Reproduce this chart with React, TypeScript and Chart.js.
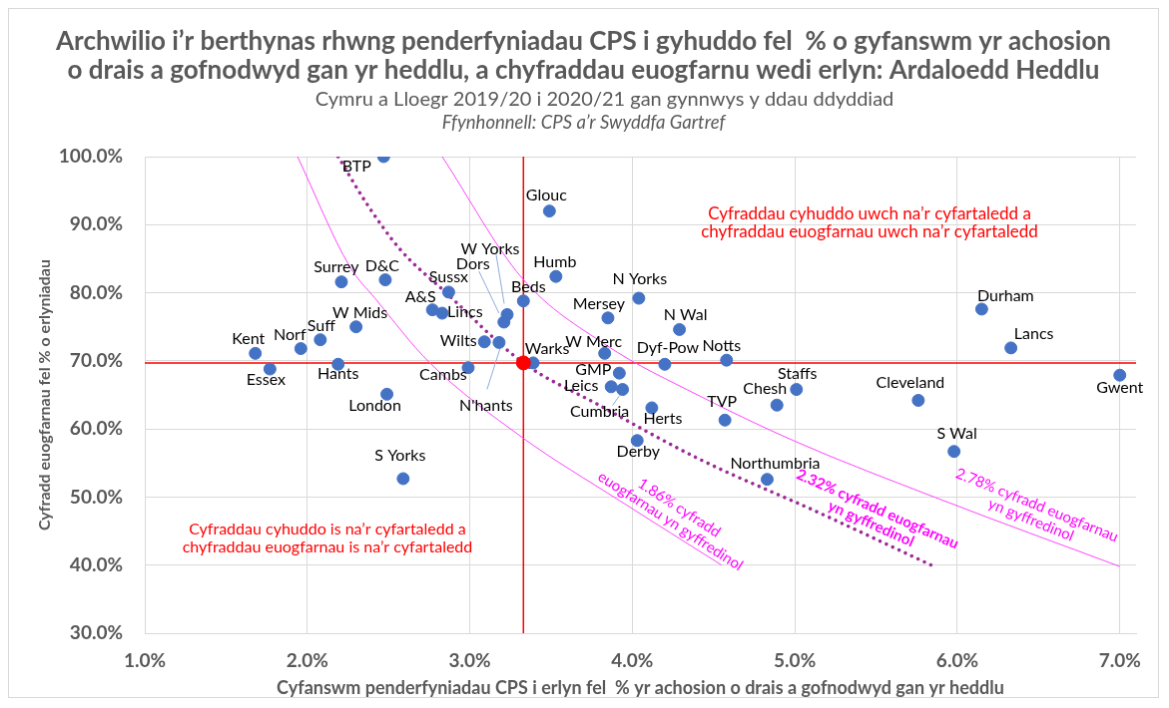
import React, { useEffect, useRef } from "react";
import { Chart, registerables } from "chart.js";

Chart.register(...registerables);

// ---- Data ----
const forces = [
  "BTP", "Glouc", "Humb", "Surrey", "D&C", "Sussx", "A&S", "Lincs", "Beds", "W Yorks",
  "Dors", "N Yorks", "Mersey", "N Wal", "W Mids", "Suff", "Norf", "Kent", "Essex", "Hants",
  "London", "Wilts", "N'hants", "Cambs", "Warks", "W Merc", "Dyf-Pow", "Notts", "GMP", "Leics",
  "Cumbria", "Herts", "Derby", "TVP", "Chesh", "Staffs", "Cleveland", "S Wal", "Northumbria", "Durham",
  "Lancs", "Gwent", "S Yorks",
];
// CPS charge decisions as % of police recorded rape (x)
const chargeRate = [
  2.47, 3.49, 3.53, 2.21, 2.48, 2.87, 2.77, 2.83, 3.33, 3.23,
  3.21, 4.04, 3.85, 4.29, 2.30, 2.08, 1.96, 1.68, 1.77, 2.19,
  2.49, 3.09, 3.18, 2.99, 3.39, 3.83, 4.20, 4.58, 3.92, 3.87,
  3.94, 4.12, 4.03, 4.57, 4.89, 5.01, 5.76, 5.98, 4.83, 6.15,
  6.33, 7.00, 2.59,
];
// Conviction rate as % of prosecutions (y)
const convictionRate = [
  100.0, 92.0, 82.4, 81.6, 81.9, 80.1, 77.5, 77.0, 78.8, 76.8,
  75.7, 79.2, 76.3, 74.6, 75.0, 73.1, 71.8, 71.1, 68.8, 69.5,
  65.1, 72.8, 72.7, 69.0, 69.7, 71.1, 69.5, 70.1, 68.2, 66.2,
  65.8, 63.1, 58.3, 61.3, 63.5, 65.8, 64.2, 56.7, 52.6, 77.6,
  71.9, 67.9, 52.7,
];
const averageCharge = 3.33;
const averageConviction = 69.7;

// Overall conviction rate reference curves
const curve186X = [1.94, 2.26, 2.42, 2.75, 3.32, 3.92, 4.55];
const curve186Y = [100, 83.9, 79.1, 69.8, 58.8, 49.5, 40];
const curve232X = [2.19, 2.36, 2.57, 2.85, 3.33, 3.78, 4.41, 5.13, 5.84];
const curve232Y = [100, 93.3, 86.4, 80.1, 69.7, 63.7, 55.6, 47.9, 40];
const curve278X = [2.83, 3.32, 3.84, 4.41, 5.0, 5.88, 7.0];
const curve278Y = [100, 82.2, 72.3, 64.9, 58.2, 49.8, 39.8];

const xTicks = [1, 2, 3, 4, 5, 6, 7];
const yTicks = [30, 40, 50, 60, 70, 80, 90, 100];

// ---- Label placement (pixel offsets from the point) ----
const labelOffsets: Record<string, [number, number]> = {
  "BTP": [-27, 10], "Glouc": [-3, -16], "Humb": [-1, -14], "Surrey": [-5, -15], "D&C": [-3, -14],
  "Sussx": [0, -15], "A&S": [-12, -13], "Lincs": [23, -1], "Beds": [5, -14], "W Yorks": [-17, -66],
  "Dors": [-31, -58], "N Yorks": [1, -19], "Mersey": [-9, -14], "N Wal": [6, -15], "W Mids": [4, -14],
  "Suff": [1, -14], "Norf": [-11, -14], "Kent": [-7, -15], "Essex": [-4, 11], "Hants": [0, 10],
  "London": [-12, 12], "Wilts": [-26, -1], "N'hants": [-13, 63], "Cambs": [-25, 7], "Warks": [14, -14],
  "W Merc": [-11, -12], "Dyf-Pow": [3, -16], "Notts": [-5, -14], "GMP": [-26, -3], "Leics": [-30, -1],
  "Cumbria": [-23, 22], "Herts": [11, 11], "Derby": [1, 11], "TVP": [-3, -18], "Chesh": [-12, -16],
  "Staffs": [1, -16], "Cleveland": [-8, -18], "S Wal": [3, -18], "Northumbria": [8, -16], "Durham": [24, -13],
  "Lancs": [23, -14], "Gwent": [0, 13], "S Yorks": [-3, -23],
};
const leaderLines: Record<string, [number, number, number, number]> = {
  "W Yorks": [-11, -60, -3, -11],
  "Dors": [-25, -51, -5, -9],
  "N'hants": [-12, 47, 1, 6],
  "Cumbria": [-10, 16, -3, 6],
};

const GREY = "#595959";
const FONT = "Lato, 'Open Sans', sans-serif";

const zipXY = (xs: number[], ys: number[]) => xs.map((x, i) => ({ x, y: ys[i] }));

const textPlugin = {
  id: "textPlugin",
  afterDatasetsDraw(chart: any) {
    const ctx = chart.ctx as CanvasRenderingContext2D;
    const meta = chart.getDatasetMeta(1);
    ctx.save();
    ctx.strokeStyle = "#8FAADC";
    ctx.lineWidth = 1;
    meta.data.forEach((el: any, i: number) => {
      const l = leaderLines[forces[i]];
      if (!l) return;
      ctx.beginPath();
      ctx.moveTo(el.x + l[0], el.y + l[1]);
      ctx.lineTo(el.x + l[2], el.y + l[3]);
      ctx.stroke();
    });
    ctx.font = `16px ${FONT}`;
    ctx.fillStyle = "#000000";
    ctx.textAlign = "center";
    ctx.textBaseline = "middle";
    meta.data.forEach((el: any, i: number) => {
      const off = labelOffsets[forces[i]] || [0, -14];
      ctx.fillText(forces[i], el.x + off[0], el.y + off[1]);
    });
    ctx.restore();
  },
  afterDraw(chart: any) {
    const ctx = chart.ctx as CanvasRenderingContext2D;
    const xs = chart.scales.x;
    const ys = chart.scales.y;
    const ca = chart.chartArea;
    const cx = chart.width / 2;
    ctx.save();
    ctx.textAlign = "center";
    ctx.textBaseline = "middle";
    ctx.fillStyle = GREY;
    ctx.font = `bold 26px ${FONT}`;
    ctx.fillText("Archwilio i’r berthynas rhwng penderfyniadau CPS i gyhuddo fel  % o gyfanswm yr achosion", cx, 33);
    ctx.fillText("o drais a gofnodwyd gan yr heddlu, a chyfraddau euogfarnu wedi erlyn: Ardaloedd Heddlu", cx, 62);
    ctx.font = `20px ${FONT}`;
    ctx.fillText("Cymru a Lloegr 2019/20 i 2020/21 gan gynnwys y ddau ddyddiad", cx + 21, 91);
    ctx.font = `italic 18.5px ${FONT}`;
    ctx.fillText("Ffynhonnell: CPS a’r Swyddfa Gartref", cx, 114);
    // axis titles
    ctx.font = `bold 18px ${FONT}`;
    ctx.fillText("Cyfanswm penderfyniadau CPS i erlyn fel  % yr achosion o drais a gofnodwyd gan yr heddlu", (ca.left + ca.right) / 2, 681);
    ctx.save();
    ctx.translate(36, (ca.top + ca.bottom) / 2);
    ctx.rotate(-Math.PI / 2);
    ctx.font = `bold 16px ${FONT}`;
    ctx.fillText("Cyfradd euogfarnau fel % o erlyniadau", 0, 0);
    ctx.restore();
    // quadrant annotations
    ctx.fillStyle = "#FF0000";
    ctx.font = `17px ${FONT}`;
    let ax = xs.getPixelForValue(5.46);
    let ay = ys.getPixelForValue(90.3);
    ctx.fillText("Cyfraddau cyhuddo uwch na’r cyfartaledd a", ax, ay - 9);
    ctx.fillText("chyfraddau euogfarnau uwch na’r cyfartaledd", ax, ay + 9);
    ctx.font = `16px ${FONT}`;
    ax = xs.getPixelForValue(2.124);
    ay = ys.getPixelForValue(44.0);
    ctx.fillText("Cyfraddau cyhuddo is na’r cyfartaledd a", ax, ay - 9);
    ctx.fillText("chyfraddau euogfarnau is na’r cyfartaledd", ax, ay + 9);
    // curve labels
    ctx.fillStyle = "#FF00FF";
    const curveLabels: [number, number, number, string, string, string][] = [
      [4.261, 47.44, 33, "1.86% cyfradd", "euogfarnau yn gyffredinol", `15px ${FONT}`],
      [5.489, 47.15, 24, "2.32% cyfradd euogfarnau", "yn gyffredinol", `bold 15px ${FONT}`],
      [6.472, 47.73, 22, "2.78% cyfradd euogfarnau", "yn gyffredinol", `15px ${FONT}`],
    ];
    curveLabels.forEach(([vx, vy, ang, l1, l2, f]) => {
      ctx.save();
      ctx.translate(xs.getPixelForValue(vx), ys.getPixelForValue(vy));
      ctx.rotate((ang * Math.PI) / 180);
      ctx.font = f;
      ctx.fillText(l1, 0, -8);
      ctx.fillText(l2, 0, 8);
      ctx.restore();
    });
    ctx.restore();
  },
};

export default function App() {
  const ref = useRef<HTMLCanvasElement | null>(null);
  useEffect(() => {
    if (!ref.current) return;
    const points = forces.map((_, i) => ({ x: chargeRate[i], y: convictionRate[i] }));
    const curveDefs = [
      { data: zipXY(curve186X, curve186Y), color: "#FF44FF", width: 1, dotted: false },
      { data: zipXY(curve232X, curve232Y), color: "#9C2A96", width: 3.5, dotted: true },
      { data: zipXY(curve278X, curve278Y), color: "#FF44FF", width: 1, dotted: false },
    ];
    const curveDatasets = curveDefs.map((c) => ({
      type: "line" as const,
      data: c.data,
      borderColor: c.color,
      borderWidth: c.width,
      borderDash: c.dotted ? [0.01, 7] : [],
      borderCapStyle: c.dotted ? ("round" as const) : ("butt" as const),
      pointRadius: 0,
      showLine: true,
      fill: false,
      cubicInterpolationMode: "monotone" as const,
    }));
    const chart = new Chart(ref.current, {
      type: "scatter",
      data: {
        datasets: [
          {
            label: "Average",
            data: [{ x: averageCharge, y: averageConviction }],
            backgroundColor: "#FF0000",
            borderColor: "#FF0000",
            pointRadius: 7,
            borderWidth: 1,
          },
          {
            label: "Forces",
            data: points,
            backgroundColor: "#4472C4",
            borderColor: "#4472C4",
            pointRadius: 6,
            borderWidth: 1,
          },
          ...curveDatasets,
          {
            type: "line",
            data: [{ x: averageCharge, y: 30 }, { x: averageCharge, y: 100 }],
            borderColor: "#FF0000",
            borderWidth: 1.5,
            pointRadius: 0,
            showLine: true,
          },
          {
            type: "line",
            data: [{ x: 1, y: averageConviction }, { x: 7.1, y: averageConviction }],
            borderColor: "#FF0000",
            borderWidth: 1.5,
            pointRadius: 0,
            showLine: true,
          },
        ] as any,
      },
      options: {
        responsive: false,
        animation: false,
        events: [],
        layout: { padding: { top: 148, right: 22, bottom: 0, left: 0 } },
        plugins: {
          legend: { display: false },
          tooltip: { enabled: false },
          title: { display: false },
        },
        scales: {
          x: {
            type: "linear",
            min: 1,
            max: 7.1,
            afterFit: (s: any) => { s.height = 64; },
            afterBuildTicks: (s: any) => { s.ticks = xTicks.map((v) => ({ value: v })); },
            ticks: {
              padding: 16,
              color: GREY,
              font: { family: FONT, size: 19, weight: "bold" },
              callback: (v: any) => Number(v).toFixed(1) + "%",
              maxRotation: 0,
            },
            grid: { color: "#D9D9D9", lineWidth: 1, drawTicks: false },
            border: { color: "#D9D9D9" },
          },
          y: {
            type: "linear",
            min: 30,
            max: 100,
            afterFit: (s: any) => { s.width = 136; },
            afterBuildTicks: (s: any) => { s.ticks = yTicks.map((v) => ({ value: v })); },
            ticks: {
              padding: 22,
              color: GREY,
              font: { family: FONT, size: 19, weight: "bold" },
              callback: (v: any) => Number(v).toFixed(1) + "%",
            },
            grid: { color: "#D9D9D9", lineWidth: 1, drawTicks: false },
            border: { color: "#D9D9D9" },
          },
        },
      },
      plugins: [textPlugin],
    });
    return () => chart.destroy();
  }, []);
  return (
    <canvas
      ref={ref}
      width={1151}
      height={690}
      style={{ display: "block", border: "1px solid #D9D9D9", background: "#fff" }}
    />
  );
}
